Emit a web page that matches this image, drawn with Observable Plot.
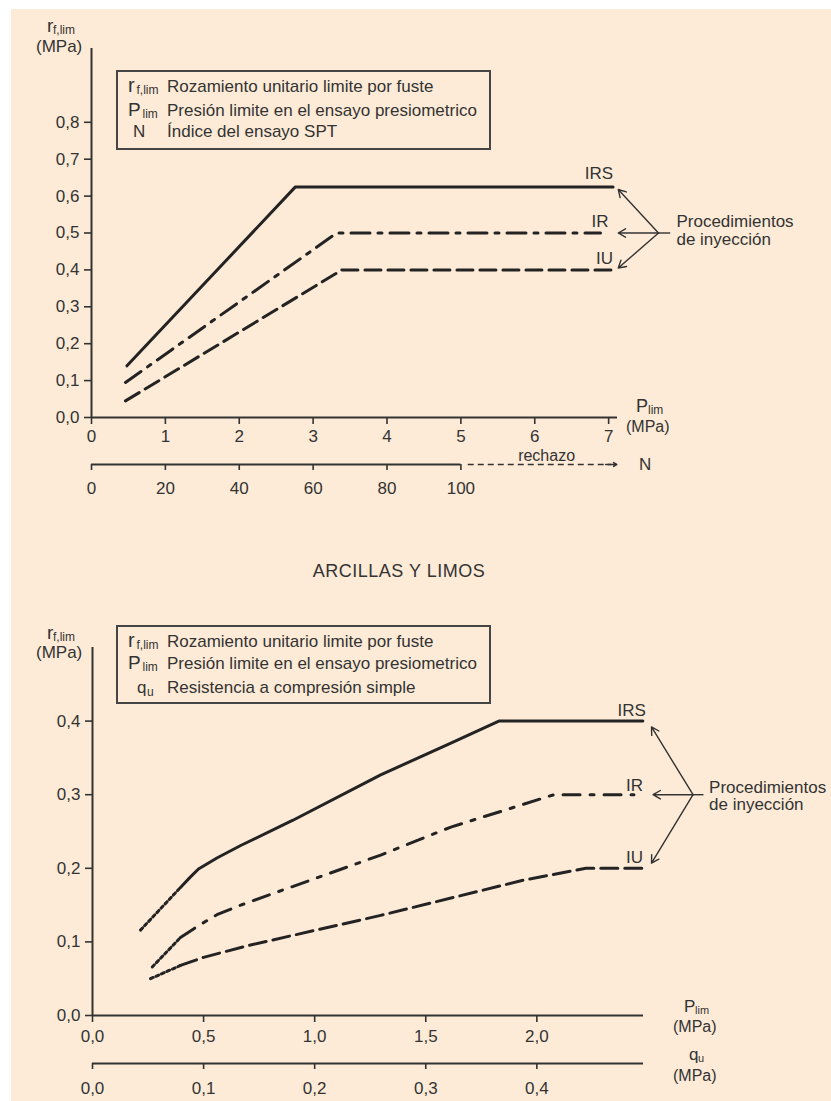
<!DOCTYPE html>
<html>
<head>
<meta charset="utf-8">
<script src="https://cdn.jsdelivr.net/npm/d3@7"></script>
<script src="https://cdn.jsdelivr.net/npm/@observablehq/plot@0.6"></script>
<style>
html,body{margin:0;padding:0;background:#ffffff;}
#page{position:relative;width:831px;height:1101px;overflow:hidden;}
#bg{position:absolute;left:11px;top:9px;width:820px;height:1092px;background:#fdebd7;}
#page svg{position:absolute;left:0;}
</style>
</head>
<body>
<div id="page"><div id="bg"></div></div>
<script>
// ================= DATA =================
// --- top chart (gravas y arenas): P_lim (MPa) -> r_f,lim (MPa)
const topPTicks = [0, 1, 2, 3, 4, 5, 6, 7];
const topPTickLabels = ["0", "1", "2", "3", "4", "5", "6", "7"];
const topRTicks = [0, 0.1, 0.2, 0.3, 0.4, 0.5, 0.6, 0.7, 0.8];
const topRTickLabels = ["0,0", "0,1", "0,2", "0,3", "0,4", "0,5", "0,6", "0,7", "0,8"];
const topNTicks = [0, 20, 40, 60, 80, 100];
const topNTickLabels = ["0", "20", "40", "60", "80", "100"];
const topNPerMPa = 20; // N = 100 corresponds to P_lim = 5 MPa

const seriesNames = ["IRS", "IR", "IU"];
const topIRS_P = [0.48, 2.76, 7.06];
const topIRS_r = [0.14, 0.625, 0.625];
const topIR_P = [0.46, 3.32, 6.89];
const topIR_r = [0.095, 0.50, 0.50];
const topIU_P = [0.46, 3.39, 7.06];
const topIU_r = [0.045, 0.40, 0.40];

const topLegendSymbols = [["r", "f,lim"], ["P", "lim"], ["N", ""]];
const topLegendTexts = ["Rozamiento unitario limite por fuste", "Presión limite en el ensayo presiometrico", "Índice del ensayo SPT"];

// --- bottom chart (arcillas y limos)
const botTitle = "ARCILLAS Y LIMOS";
const botPTicks = [0, 0.5, 1.0, 1.5, 2.0];
const botPTickLabels = ["0,0", "0,5", "1,0", "1,5", "2,0"];
const botRTicks = [0, 0.1, 0.2, 0.3, 0.4];
const botRTickLabels = ["0,0", "0,1", "0,2", "0,3", "0,4"];
const botQuTicks = [0, 0.1, 0.2, 0.3, 0.4];
const botQuTickLabels = ["0,0", "0,1", "0,2", "0,3", "0,4"];
const botPPerQu = 5; // q_u = 0.1 corresponds to P_lim = 0.5 MPa

const botIRS_dotP = [0.216, 0.396];
const botIRS_dotR = [0.116, 0.174];
const botIRS_P = [0.396, 0.440, 0.477, 0.560, 0.667, 0.900, 1.297, 1.613, 1.829, 2.477];
const botIRS_r = [0.174, 0.188, 0.199, 0.214, 0.231, 0.265, 0.327, 0.370, 0.400, 0.400];
const botIR_dotP = [0.269, 0.396];
const botIR_dotR = [0.066, 0.106];
const botIR_P = [0.396, 0.477, 0.560, 0.667, 1.297, 1.613, 2.077, 2.437];
const botIR_r = [0.106, 0.122, 0.137, 0.150, 0.218, 0.256, 0.300, 0.300];
const botIU_dotP = [0.261, 0.396];
const botIU_dotR = [0.050, 0.068];
const botIU_P = [0.396, 0.500, 0.700, 1.297, 1.941, 2.221, 2.473];
const botIU_r = [0.068, 0.079, 0.095, 0.136, 0.184, 0.200, 0.200];

const botLegendSymbols = [["r", "f,lim"], ["P", "lim"], ["q", "u"]];
const botLegendTexts = ["Rozamiento unitario limite por fuste", "Presión limite en el ensayo presiometrico", "Resistencia a compresión simple"];

const annotLines = ["Procedimientos", "de inyección"];

// ================= DRAWING =================
const FONT = '"Liberation Sans", Arial, Helvetica, sans-serif';
const INK = "#333333";
const LINE = "#232323";
const page = document.getElementById("page");
const fmt = (vals, labels) => d => labels[vals.indexOf(d)];
const baseStyle = {background: "transparent", color: INK, fontFamily: FONT, fontSize: "17px", overflow: "visible"};

// ---------- top chart ----------
const topXMax = 7.12;
const topChart = Plot.plot({
  width: 831, height: 520,
  marginTop: 48, marginBottom: 103, marginLeft: 91, marginRight: 214,
  x: {domain: [0, topXMax]},
  y: {domain: [0, 1.0]},
  style: baseStyle,
  marks: [
    Plot.ruleX([0], {y1: 0, y2: 1.0, stroke: INK, strokeWidth: 2}),
    Plot.ruleY([0], {x1: 0, x2: topXMax, stroke: INK, strokeWidth: 2}),
    Plot.axisY({ticks: topRTicks, tickFormat: fmt(topRTicks, topRTickLabels), tickSize: 7, tickPadding: 5, fontSize: 17, label: null, strokeWidth: 1.6}),
    Plot.axisX({ticks: topPTicks, tickFormat: fmt(topPTicks, topPTickLabels), tickSize: 7, tickPadding: 5, fontSize: 17, label: null, strokeWidth: 1.6}),
    // secondary N axis
    Plot.ruleY([0], {x1: 0, x2: topNTicks[topNTicks.length - 1] / topNPerMPa, dy: 47, stroke: INK, strokeWidth: 2}),
    Plot.axisX({ticks: topNTicks.map(n => n / topNPerMPa), tickFormat: p => topNTickLabels[topNTicks.indexOf(Math.round(p * topNPerMPa))], dy: 47, tickSize: 6, tickPadding: 11, fontSize: 17, label: null, strokeWidth: 1.6}),
    Plot.ruleY([0], {x1: 5.1, x2: 7.04, dy: 47, stroke: INK, strokeWidth: 1.5, strokeDasharray: "6,4"}),
    Plot.arrow([0], {x1: 6.96, y1: 0, x2: 7.11, y2: 0, dy: 47, stroke: INK, strokeWidth: 1.5, headLength: 9}),
    Plot.text(["rechazo"], {x: 6.16, y: 0, dy: 38, text: d => d, fontSize: 16}),
    Plot.text(["N"], {x: 7.495, y: 0, dy: 47, text: d => d, fontSize: 17}),
    // series
    Plot.line(topIRS_P, {x: topIRS_P, y: topIRS_r, stroke: LINE, strokeWidth: 3}),
    Plot.line(topIR_P, {x: topIR_P, y: topIR_r, stroke: LINE, strokeWidth: 3, strokeDasharray: "19,8,4,8"}),
    Plot.line(topIU_P, {x: topIU_P, y: topIU_r, stroke: LINE, strokeWidth: 3, strokeDasharray: "16,7"}),
    // series labels
    Plot.text([seriesNames[0]], {x: topIRS_P.at(-1), y: topIRS_r.at(-1), text: d => d, textAnchor: "end", dy: -13, fontSize: 17}),
    Plot.text([seriesNames[1]], {x: topIR_P.at(-1), y: topIR_r.at(-1), text: d => d, textAnchor: "end", dx: 8, dy: -11, fontSize: 17}),
    Plot.text([seriesNames[2]], {x: topIU_P.at(-1), y: topIU_r.at(-1), text: d => d, textAnchor: "end", dy: -11, fontSize: 17}),
    // arrows
    Plot.arrow([0.618, topIR_r.at(-1), 0.405], {x1: 7.675, y1: topIR_r.at(-1), x2: 7.13, y2: d => d, stroke: INK, strokeWidth: 1.4, headLength: 9}),
    Plot.ruleY([topIR_r.at(-1)], {x1: 7.675, x2: 7.84, stroke: INK, strokeWidth: 1.4}),
    Plot.text([annotLines[0]], {x: 7.918, y: 0.531, text: d => d, textAnchor: "start", fontSize: 17}),
    Plot.text([annotLines[1]], {x: 7.918, y: 0.482, text: d => d, textAnchor: "start", fontSize: 17})
  ]
});
topChart.style.top = "0px";
page.appendChild(topChart);

// ---------- bottom chart ----------
const botXMax = 2.48;
const botChart = Plot.plot({
  width: 831, height: 561,
  marginTop: 107, marginBottom: 86, marginLeft: 92, marginRight: 188,
  x: {domain: [0, botXMax]},
  y: {domain: [0, 0.5]},
  style: baseStyle,
  marks: [
    Plot.ruleX([0], {y1: 0, y2: 0.5, stroke: INK, strokeWidth: 2}),
    Plot.ruleY([0], {x1: 0, x2: botXMax, stroke: INK, strokeWidth: 2}),
    Plot.axisY({ticks: botRTicks, tickFormat: fmt(botRTicks, botRTickLabels), tickSize: 7, tickPadding: 5, fontSize: 17, label: null, strokeWidth: 1.6}),
    Plot.axisX({ticks: botPTicks, tickFormat: fmt(botPTicks, botPTickLabels), tickSize: 7, tickPadding: 7, fontSize: 17, label: null, strokeWidth: 1.6}),
    // secondary q_u axis
    Plot.ruleY([0], {x1: 0, x2: botXMax, dy: 48, stroke: INK, strokeWidth: 2}),
    Plot.axisX({ticks: botQuTicks.map(q => q * botPPerQu), tickFormat: p => botQuTickLabels[botQuTicks.findIndex(q => Math.abs(q * botPPerQu - p) < 1e-9)], dy: 48, tickSize: 6, tickPadding: 12, fontSize: 17, label: null, strokeWidth: 1.6}),
    // dotted beginnings
    Plot.line(botIRS_dotP, {x: botIRS_dotP, y: botIRS_dotR, stroke: LINE, strokeWidth: 3, strokeDasharray: "3,3"}),
    Plot.line(botIR_dotP, {x: botIR_dotP, y: botIR_dotR, stroke: LINE, strokeWidth: 3, strokeDasharray: "3,3"}),
    Plot.line(botIU_dotP, {x: botIU_dotP, y: botIU_dotR, stroke: LINE, strokeWidth: 3, strokeDasharray: "3,3"}),
    // series
    Plot.line(botIRS_P, {x: botIRS_P, y: botIRS_r, stroke: LINE, strokeWidth: 3}),
    Plot.line(botIR_P, {x: botIR_P, y: botIR_r, stroke: LINE, strokeWidth: 3, strokeDasharray: "17,10,4,10"}),
    Plot.line(botIU_P, {x: botIU_P, y: botIU_r, stroke: LINE, strokeWidth: 3, strokeDasharray: "17,7"}),
    // labels
    Plot.text([seriesNames[0]], {x: botIRS_P.at(-1), y: botIRS_r.at(-1), text: d => d, textAnchor: "end", dx: 3, dy: -11, fontSize: 17}),
    Plot.text([seriesNames[1]], {x: botIR_P.at(-1), y: botIR_r.at(-1), text: d => d, textAnchor: "end", dx: 9, dy: -9, fontSize: 17}),
    Plot.text([seriesNames[2]], {x: botIU_P.at(-1), y: botIU_r.at(-1), text: d => d, textAnchor: "end", dx: 1, dy: -11, fontSize: 17}),
    // arrows
    Plot.arrow([0.392, botIR_r.at(-1), 0.207], {x1: 2.703, y1: botIR_r.at(-1), x2: d => (d === botIR_r.at(-1) ? 2.523 : 2.516), y2: d => d, stroke: INK, strokeWidth: 1.4, headLength: 9}),
    Plot.ruleY([botIR_r.at(-1)], {x1: 2.703, x2: 2.752, stroke: INK, strokeWidth: 1.4}),
    Plot.text([annotLines[0]], {x: 2.775, y: 0.310, text: d => d, textAnchor: "start", fontSize: 17}),
    Plot.text([annotLines[1]], {x: 2.775, y: 0.286, text: d => d, textAnchor: "start", fontSize: 17})
  ]
});
botChart.style.top = "540px";
page.appendChild(botChart);

// ---------- overlay: legends, axis titles with subscripts, section title ----------
const ov = d3.select(page).append("svg")
  .attr("width", 831).attr("height", 1101)
  .style("top", "0px")
  .attr("font-family", FONT).attr("fill", INK);

function subText(x, y, big, bigSize, small, smallSize, subX, subDy) {
  const t = ov.append("text").attr("x", x).attr("y", y);
  t.append("tspan").attr("font-size", bigSize).text(big);
  if (small) t.append("tspan").attr("x", subX).attr("dy", subDy).attr("font-size", smallSize).text(small);
}
function plain(x, y, s, size, anchor) {
  ov.append("text").attr("x", x).attr("y", y).attr("font-size", size)
    .attr("text-anchor", anchor || "start").text(s);
}

// legend boxes
function legend(top, h, symbols, texts, baselines) {
  ov.append("rect").attr("x", 117).attr("y", top).attr("width", 373).attr("height", h)
    .attr("fill", "none").attr("stroke", "#454545").attr("stroke-width", 2);
  symbols.forEach((s, i) => {
    const y = baselines[i];
    if (s[0] === "r") subText(128, y, "r", 20, s[1], 12, 136.5, 2);
    else if (s[0] === "P") subText(128, y, "P", 19, s[1], 12, 142.5, 1.5);
    else if (s[0] === "q") subText(137, y, "q", 17, s[1], 12, 147, 3);
    else plain(133, y, s[0], 17);
    plain(167, y, texts[i], 17);
  });
}
legend(71, 78, topLegendSymbols, topLegendTexts, [92, 116, 137]);
legend(626, 77, botLegendSymbols, botLegendTexts, [647, 669, 693]);

// y-axis titles
subText(47, 32, "r", 19, "f,lim", 12, 53, 2);
plain(36, 52, "(MPa)", 17);
subText(47, 639, "r", 19, "f,lim", 12, 53, 2);
plain(36, 658, "(MPa)", 17);

// x-axis titles
subText(636, 412, "P", 18, "lim", 12, 648, 2);
plain(626, 432, "(MPa)", 16);
subText(684, 1012, "P", 17, "lim", 11, 695, 2);
plain(673, 1032, "(MPa)", 16);
subText(689, 1060, "q", 17, "u", 11, 698, 2);
plain(673, 1081, "(MPa)", 16);

// section title
ov.append("text").attr("x", 399).attr("y", 577).attr("font-size", 18)
  .attr("letter-spacing", "0.5").attr("text-anchor", "middle").text(botTitle);
</script>
</body>
</html>
